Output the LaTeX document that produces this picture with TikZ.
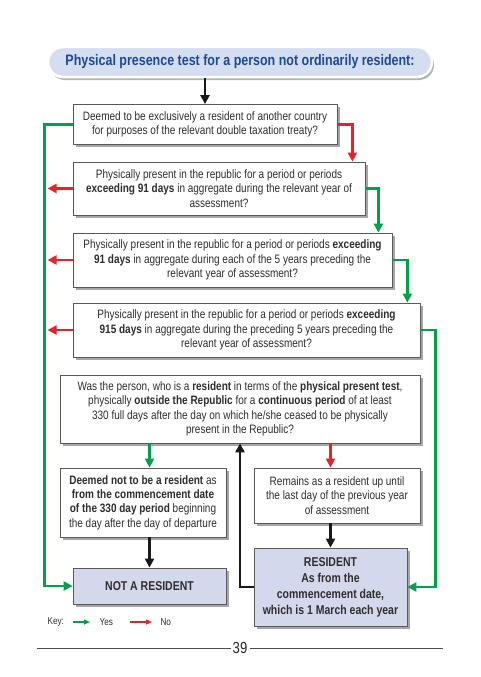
\documentclass[tikz,border=0pt]{standalone}
\usepackage{fontspec}
\setmainfont{Liberation Sans}[FakeStretch=0.82]
\usetikzlibrary{arrows.meta,shadows}
\definecolor{grn}{HTML}{00A14B}
\definecolor{rd}{HTML}{E3242B}
\definecolor{txt}{HTML}{2E2E2E}
\definecolor{resfill}{HTML}{D3D8EC}
\definecolor{titlefill}{HTML}{D5DDF0}
\definecolor{titletxt}{HTML}{1A4A9A}
\tikzset{
  qbox/.style={draw=black!65, line width=0.8pt, fill=white, align=center, text=txt,
    font=\fontsize{12.2}{14.4}\selectfont, inner sep=1pt,
    drop shadow={shadow xshift=2.5pt, shadow yshift=-2.5pt, fill=black!50, opacity=.7}},
  rbox/.style={qbox, fill=resfill, font=\fontsize{12.8}{16}\selectfont\bfseries},
  tip/.style={-{Triangle[width=9pt,length=9pt]}},
  garr/.style={draw=grn, line width=2.6pt, tip},
  rarr/.style={draw=rd, line width=2.6pt, tip},
  barr/.style={draw=black!90, line width=2.6pt, tip},
  keyarr/.style={line width=1.4pt, -{Triangle[width=5pt,length=6pt]}},
  keytext/.style={text=txt, font=\fontsize{10}{12}\selectfont, anchor=west},
}
\begin{document}
\begin{tikzpicture}[x=1pt,y=-1pt]
\useasboundingbox (0,0) rectangle (480,677);
% title
\node[draw=white, line width=2.5pt, fill=titlefill, rounded corners=15pt,
  minimum width=384pt, minimum height=30pt, text=titletxt, inner sep=1pt,
  font=\fontsize{15.2}{17}\selectfont\bfseries,
  drop shadow={shadow xshift=2pt, shadow yshift=-3pt, fill=black!50, opacity=.6}]
  (title) at (240,62) {Physical presence test for a person not ordinarily resident:};
% questions
\node[qbox, minimum width=264pt, minimum height=40pt] (b1) at (205,124.5)
 {Deemed to be exclusively a resident of another country\\ for purposes of the relevant double taxation treaty?};
\node[qbox, minimum width=292pt, minimum height=53pt] (b2) at (219,188.5)
 {Physically present in the republic for a period or periods\\ \textbf{exceeding 91 days} in aggregate during the relevant year of\\ assessment?};
\node[qbox, minimum width=319pt, minimum height=54pt] (b3) at (232.5,260)
 {Physically present in the republic for a period or periods \textbf{exceeding}\\ \textbf{91 days} in aggregate during each of the 5 years preceding the\\ relevant year of assessment?};
\node[qbox, minimum width=347pt, minimum height=54pt] (b4) at (246.5,330)
 {Physically present in the republic for a period or periods \textbf{exceeding}\\ \textbf{915 days} in aggregate during the preceding 5 years preceding the\\ relevant year of assessment?};
\node[qbox, minimum width=360pt, minimum height=68pt] (b5) at (240,409)
 {Was the person, who is a \textbf{resident} in terms of the \textbf{physical present test},\\ physically \textbf{outside the Republic} for a \textbf{continuous period} of at least\\ 330 full days after the day on which he/she ceased to be physically\\ present in the Republic?};
\node[qbox, minimum width=166pt, minimum height=69pt] (b6) at (143,502.5)
 {\textbf{Deemed not to be a resident} as\\ \textbf{from the commencement date}\\ \textbf{of the 330 day period} beginning\\ the day after the day of departure};
\node[qbox, minimum width=166pt, minimum height=55pt] (b7) at (337,495.5)
 {Remains as a resident up until\\ the last day of the previous year\\ of assessment};
% results
\node[rbox, minimum width=153pt, minimum height=36pt] (nr) at (149.5,586) {NOT A RESIDENT};
\node[rbox, minimum width=153pt, minimum height=78pt] (res) at (330.5,587)
 {RESIDENT\\ As from the\\ commencement date,\\ which is 1 March each year};
% connectors
\draw[barr] (title.south -| b1.north) -- (b1.north);
\draw[rarr] (b1.east) -| ([xshift=-13pt]b2.north east);
\draw[garr] (b2.east) -| ([xshift=-14pt]b3.north east);
\draw[garr] (b3.east) -| ([xshift=-13pt]b4.north east);
\draw[garr] (b4.east) -- ++(15,0) |- (res.east);
\draw[garr] (b1.west) -- ++(-28,0) |- (nr.west);
\coordinate (r2) at ([xshift=-25pt]b2.west);
\coordinate (r3) at ([xshift=-25pt]b3.west);
\coordinate (r4) at ([xshift=-25pt]b4.west);
\draw[rarr] (b2.west) -- (r2);
\draw[rarr] (b3.west) -- (r3);
\draw[rarr] (b4.west) -- (r4);
\draw[garr] (b5.south -| nr.north) -- (b6.north -| nr.north);
\draw[rarr] (b5.south -| res.north) -- (b7.north -| res.north);
\draw[barr] (b6.south -| nr.north) -- (nr.north);
\draw[barr] (b7.south -| res.north) -- (res.north);
\draw[barr] (res.west) -| (b5.south);
% key
\node[keytext] (key) at (44,622) {Key:};
\coordinate (k1a) at (73,622); \coordinate (k1b) at (90,622);
\coordinate (k2a) at (130,622); \coordinate (k2b) at (152,622);
\draw[keyarr, grn] (k1a) -- (k1b);
\node[keytext] (yes) at (96,622) {Yes};
\draw[keyarr, rd] (k2a) -- (k2b);
\node[keytext] (no) at (157,622) {No};
% page number
\node[font=\fontsize{16}{18}\selectfont, text=black!85, inner sep=2pt] (pg) at (240,648) {39};
\coordinate (l1) at (37,648); \coordinate (l2) at (443,648);
\draw[black!70, line width=0.6pt] (l1) -- (pg.west);
\draw[black!70, line width=0.6pt] (pg.east) -- (l2);
\end{tikzpicture}
\end{document}
